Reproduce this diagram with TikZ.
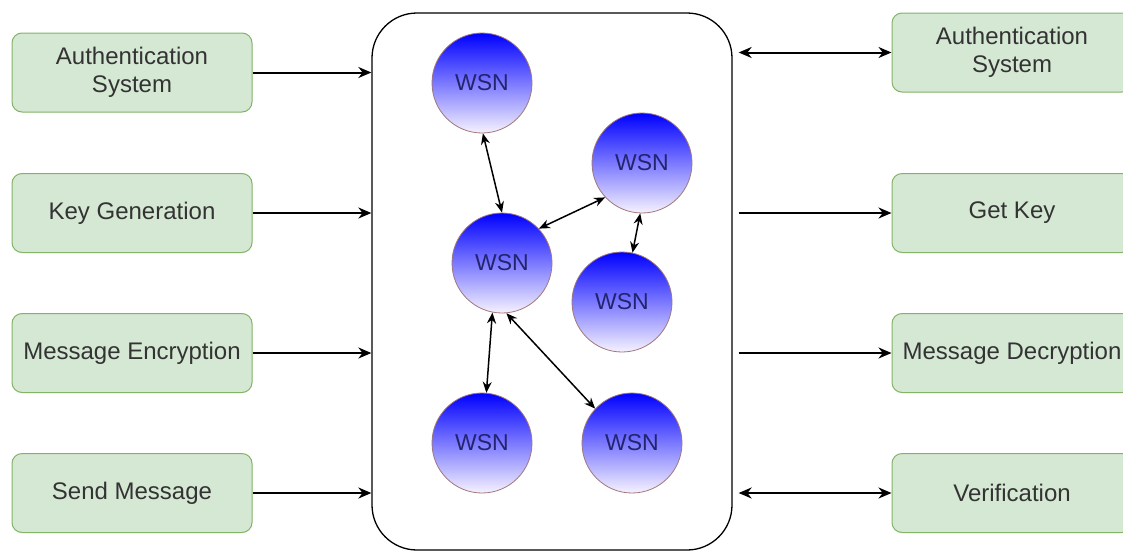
\documentclass[tikz,border=0pt]{standalone}
\usepackage{fontspec}
\setmainfont{Liberation Sans}
\usetikzlibrary{arrows.meta,calc}
\definecolor{boxfill}{HTML}{D5E8D4}
\definecolor{boxdraw}{HTML}{82B366}
\definecolor{txt}{HTML}{333333}
\definecolor{wsntxt}{HTML}{23236E}
\definecolor{wsnedge}{HTML}{A07878}
\definecolor{wsntop}{HTML}{0000FF}
\definecolor{wsnbot}{HTML}{F6F2FF}
\begin{document}
\begin{tikzpicture}[x=1pt,y=-1pt,
  box/.style={draw=boxdraw, fill=boxfill, rounded corners=10pt, minimum width=240pt,
    minimum height=79pt, inner sep=0pt, align=center, text=txt,
    font=\fontsize{24}{28}\selectfont, line width=1pt},
  wsn/.style={circle, draw=wsnedge, line width=0.8pt, top color=wsntop, bottom color=wsnbot,
    minimum size=100pt, inner sep=0pt, text=wsntxt, font=\fontsize{23}{26}\selectfont},
  cont/.style={draw=black, line width=1.3pt, rounded corners=45pt, fill=white,
    minimum width=360pt, minimum height=537pt, inner sep=0pt},
  flow/.style={line width=2pt, -{Stealth[length=13pt,width=11pt]}},
  bflow/.style={line width=2pt, {Stealth[length=13pt,width=11pt]}-{Stealth[length=13pt,width=11pt]}},
  link/.style={line width=1.5pt, {Stealth[length=11pt,width=9pt]}-{Stealth[length=11pt,width=9pt]}},
]
\useasboundingbox (0,0) rectangle (1123,552);
\clip (0,0) rectangle (1123,552);
\fill[white] (0,0) rectangle (1123,552);

\node[cont] (cont) at (552,281.5) {};

\node[box] (l1) at (132,72.5) {Authentication\\System};
\node[box] (l2) at (132,213) {Key Generation};
\node[box] (l3) at (132,353) {Message Encryption};
\node[box] (l4) at (132,493) {Send Message};

\node[box] (r1) at (1012,52.5) {Authentication\\System};
\node[box] (r2) at (1012,213) {Get Key};
\node[box] (r3) at (1012,353) {Message Decryption};
\node[box] (r4) at (1012,493) {Verification};

\node[wsn] (w1) at (482,83) {WSN};
\node[wsn] (w2) at (642,163) {WSN};
\node[wsn] (w3) at (502,263) {WSN};
\node[wsn] (w4) at (622,302) {WSN};
\node[wsn] (w5) at (482,443) {WSN};
\node[wsn] (w6) at (632,443) {WSN};

\draw[flow] (l1.east) -- (l1.east -| cont.west);
\draw[flow] (l2.east) -- (l2.east -| cont.west);
\draw[flow] (l3.east) -- (l3.east -| cont.west);
\draw[flow] (l4.east) -- (l4.east -| cont.west);

\draw[bflow, shorten <=6pt] (r1.west -| cont.east) -- (r1.west);
\draw[flow, shorten <=6pt] (r2.west -| cont.east) -- (r2.west);
\draw[flow, shorten <=6pt] (r3.west -| cont.east) -- (r3.west);
\draw[bflow, shorten <=6pt] (r4.west -| cont.east) -- (r4.west);

\draw[link] (w1.271) -- (w3.90);
\draw[link] (w3.43) -- (w2.223);
\draw[link] (w2.268) -- (w4.78);
\draw[link] (w3.259) -- (w5.85);
\draw[link] (w3.275) -- (w6.137);
\end{tikzpicture}
\end{document}
